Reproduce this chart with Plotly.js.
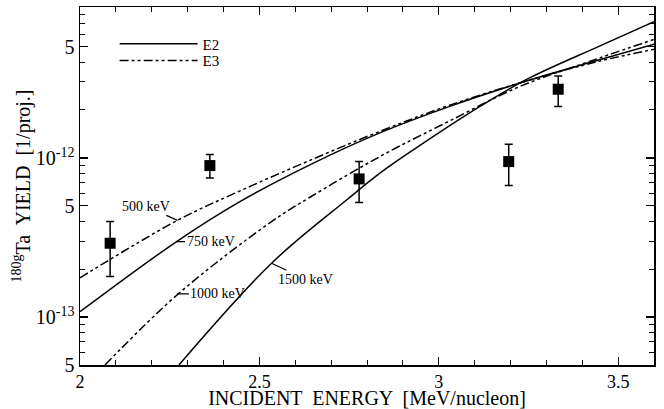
<!DOCTYPE html>
<html>
<head>
<meta charset="utf-8">
<script src="https://cdn.plot.ly/plotly-3.0.1.min.js"></script>
<style>html,body{margin:0;padding:0;background:#fff;}#chart{width:664px;height:409px;}</style>
</head>
<body>
<div id="chart"></div>
<script>
// Calculated yield curves (E2 = solid, E3 = dash-dot)
const energy500 = [2.0, 2.2716, 2.4457, 2.6407, 2.8357, 3.0306, 3.2535, 3.4485, 3.6];
const yield500  = [1.765e-13, 4.052e-13, 6.20e-13, 9.645e-13, 1.467e-12, 2.143e-12, 3.088e-12, 4.057e-12, 4.812e-12];

const energy750 = [2.0, 2.2694, 2.4457, 2.6407, 2.8357, 3.0306, 3.2535, 3.4485, 3.6];
const yield750  = [1.080e-13, 2.982e-13, 5.309e-13, 9.04e-13, 1.435e-12, 2.108e-12, 3.088e-12, 4.134e-12, 5.171e-12];

const energy1000 = [2.0696, 2.274, 2.534, 2.641, 2.836, 3.031, 3.226, 3.448, 3.6];
const yield1000  = [5.0e-14, 1.40e-13, 3.98e-13, 5.66e-13, 1.02e-12, 1.71e-12, 2.81e-12, 4.24e-12, 5.55e-12];

const energy1500 = [2.2758, 2.534, 2.743, 2.836, 2.928, 3.114, 3.253, 3.448, 3.6];
const yield1500  = [5.0e-14, 2.18e-13, 5.44e-13, 8.02e-13, 1.12e-12, 2.10e-12, 3.18e-12, 5.04e-12, 7.18e-12];

// Measured points
const measEnergy = [2.084, 2.362, 2.778, 3.195, 3.333];
const measYield  = [2.91e-13, 8.95e-13, 7.38e-13, 9.48e-13, 2.70e-12];
const measHigh   = [3.98e-13, 1.05e-12, 9.48e-13, 1.22e-12, 3.27e-12];
const measLow    = [1.80e-13, 7.49e-13, 5.24e-13, 6.70e-13, 2.10e-12];

// Axis ticks
const xTickVals = [2, 2.5, 3, 3.5];
const xTickText = ['2', '2.5', '3', '3.5'];
const xMinorVals = [2.1, 2.2, 2.3, 2.4, 2.6, 2.7, 2.8, 2.9, 3.1, 3.2, 3.3, 3.4, 3.6];
const yTickVals = [5e-14, 1e-13, 5e-13, 1e-12, 5e-12];
const yTickText = ['5', '10<sup>-13</sup>', '5', '10<sup>-12</sup>', '5'];
const yMinorVals = [6e-14, 7e-14, 8e-14, 9e-14, 2e-13, 3e-13, 4e-13, 6e-13, 7e-13, 8e-13, 9e-13,
                    2e-12, 3e-12, 4e-12, 6e-12, 7e-12, 8e-12];

const curveLabels = [
  {text: '500 keV',  x: 2.2716, y: 4.05e-13, ax: -31, ay: -14},
  {text: '750 keV',  x: 2.269,  y: 2.98e-13, ax: 34,  ay: 0},
  {text: '1000 keV', x: 2.270,  y: 1.40e-13, ax: 41,  ay: 0},
  {text: '1500 keV', x: 2.534,  y: 2.18e-13, ax: 34,  ay: 16}
];

const FONT = '"Liberation Serif", "Times New Roman", serif';
const dashE3 = '9px,3px,3px,3px,3px,3px';

const traces = [
  {x: energy750, y: yield750, mode: 'lines', name: 'E2', legend: 'legend', showlegend: true,
   line: {color: '#000', width: 1.5, shape: 'spline'}},
  {x: energy500, y: yield500, mode: 'lines', name: 'E3', legend: 'legend2', showlegend: true,
   line: {color: '#000', width: 1.5, dash: dashE3, shape: 'spline'}},
  {x: energy1500, y: yield1500, mode: 'lines', name: 'E2', showlegend: false,
   line: {color: '#000', width: 1.5, shape: 'spline'}},
  {x: energy1000, y: yield1000, mode: 'lines', name: 'E3', showlegend: false,
   line: {color: '#000', width: 1.5, dash: dashE3, shape: 'spline'}},
  {x: measEnergy, y: measYield, mode: 'markers', name: 'data', showlegend: false,
   marker: {symbol: 'square', size: 11, color: '#000'},
   error_y: {type: 'data', symmetric: false,
     array: measHigh.map((h, i) => h - measYield[i]),
     arrayminus: measLow.map((l, i) => measYield[i] - l),
     color: '#000', thickness: 1.5, width: 4}}
];

const legendBase = {xanchor: 'left', yanchor: 'middle', bgcolor: 'rgba(0,0,0,0)',
                    font: {family: FONT, size: 15, color: '#000'}, itemwidth: 78};

const layout = {
  width: 664, height: 409,
  margin: {l: 80, r: 10, t: 7, b: 44},
  paper_bgcolor: '#fff', plot_bgcolor: '#fff',
  font: {family: FONT, color: '#000'},
  showlegend: true,
  legend: Object.assign({x: 0.0603, y: 0.8966}, legendBase),
  legend2: Object.assign({x: 0.0603, y: 0.850}, legendBase),
  xaxis: {
    range: [2, 3.6], showgrid: false, zeroline: false,
    showline: true, linecolor: '#000', linewidth: 1.5, mirror: 'allticks',
    ticks: 'inside', ticklen: 8, tickwidth: 1.2, tickcolor: '#000',
    tickmode: 'array', tickvals: xTickVals, ticktext: xTickText,
    tickfont: {family: FONT, size: 18},
    minor: {tickmode: 'array', tickvals: xMinorVals, ticks: 'inside', ticklen: 5, tickwidth: 1, tickcolor: '#000', showgrid: false},
    title: {text: 'INCIDENT  ENERGY  [MeV/nucleon]', font: {family: FONT, size: 20}, standoff: 10}
  },
  yaxis: {
    type: 'log', range: [Math.log10(5e-14), -11.052], showgrid: false, zeroline: false,
    showline: true, linecolor: '#000', linewidth: 1.5, mirror: 'allticks',
    ticks: 'inside', ticklen: 8, tickwidth: 1.2, tickcolor: '#000',
    tickmode: 'array', tickvals: yTickVals, ticktext: yTickText,
    tickfont: {family: FONT, size: 20},
    minor: {tickmode: 'array', tickvals: yMinorVals, ticks: 'inside', ticklen: 5, tickwidth: 1, tickcolor: '#000', showgrid: false},
    title: {text: '<sup>180g</sup>Ta  YIELD  [1/proj.]', font: {family: FONT, size: 20}, standoff: 0}
  },
  annotations: curveLabels.map(c => ({
    text: c.text, x: c.x, y: Math.log10(c.y), xref: 'x', yref: 'y',
    showarrow: true, arrowhead: 0, arrowwidth: 1.2, arrowcolor: '#000',
    ax: c.ax, ay: c.ay, standoff: 0, startstandoff: 0,
    font: {family: FONT, size: 14, color: '#000'}
  }))
};

Plotly.newPlot('chart', traces, layout, {staticPlot: true, displayModeBar: false});
</script>
</body>
</html>
